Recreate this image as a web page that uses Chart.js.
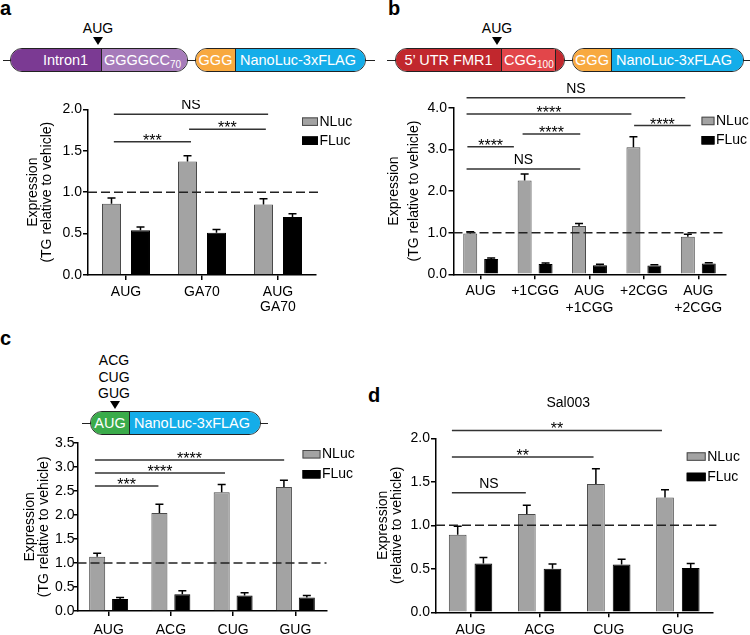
<!DOCTYPE html>
<html>
<head>
<meta charset="utf-8">
<script src="https://cdn.jsdelivr.net/npm/chart.js@4.4.1/dist/chart.umd.min.js"></script>
<style>
  body { margin: 0; width: 750px; height: 635px; position: relative; overflow: hidden; background: #fff;
         font-family: "Liberation Sans", Arial, Helvetica, sans-serif; color: #000; }
  canvas { position: absolute; }
  .letter { position: absolute; font-weight: bold; font-size: 20px; line-height: 20px; }
  .wire { position: absolute; height: 1px; background: #222; }
  .pill { position: absolute; height: 24px; border: 1px solid #222; border-radius: 12px; overflow: hidden;
          display: flex; box-sizing: border-box; }
  .seg { height: 100%; color: #fff; font-size: 14.5px; line-height: 22px; white-space: nowrap; box-sizing: border-box; }
  .cut { border-right: 1px solid #222; }
  .seg sub { font-size: 10px; vertical-align: -3px; line-height: 0; }
  .lbl { position: absolute; font-size: 14px; line-height: 14px; text-align: center; }
  .tri { position: absolute; width: 0; height: 0; border-left: 5px solid transparent;
         border-right: 5px solid transparent; border-top: 8px solid #000; }
</style>
</head>
<body>

<div class="letter" style="left:0;top:-2px">a</div>
<div class="letter" style="left:388px;top:-2px">b</div>
<div class="letter" style="left:0;top:328px">c</div>
<div class="letter" style="left:368px;top:385px">d</div>

<!-- construct a -->
<div class="wire" style="left:3px;top:60px;width:372px"></div>
<div class="lbl" style="left:78px;top:21px;width:40px">AUG</div>
<div class="tri" style="left:93px;top:37px"></div>
<div class="pill" style="left:10px;top:48px;width:178px">
  <div class="seg cut" style="width:91px;background:#7b3a93;padding-left:32px">Intron1</div>
  <div class="seg" style="flex:1;background:#a67bba;padding-left:2px">GGGGCC<sub>70</sub></div>
</div>
<div class="pill" style="left:195px;top:48px;width:171px">
  <div class="seg cut" style="width:40px;background:#f8a93f;text-align:center">GGG</div>
  <div class="seg" style="flex:1;background:#14ade9;padding-left:4px">NanoLuc-3xFLAG</div>
</div>

<!-- construct b -->
<div class="wire" style="left:387px;top:60px;width:363px"></div>
<div class="lbl" style="left:477px;top:21px;width:40px">AUG</div>
<div class="tri" style="left:492px;top:37px"></div>
<div class="pill" style="left:395px;top:48px;width:170px">
  <div class="seg cut" style="width:106px;background:#c1272d;text-align:center">5’ UTR FMR1</div>
  <div class="seg cut" style="width:54px;background:#e2464a;padding-left:2px">CGG<sub>100</sub></div>
  <div class="seg" style="flex:1;background:#c1272d"></div>
</div>
<div class="pill" style="left:572px;top:48px;width:172px">
  <div class="seg cut" style="width:39px;background:#f8a93f;text-align:center">GGG</div>
  <div class="seg" style="flex:1;background:#14ade9;padding-left:4px">NanoLuc-3xFLAG</div>
</div>

<!-- construct c -->
<div class="lbl" style="left:94px;top:353px;width:40px">ACG</div>
<div class="lbl" style="left:94px;top:370px;width:40px">CUG</div>
<div class="lbl" style="left:94px;top:386px;width:40px">GUG</div>
<div class="tri" style="left:110px;top:401px"></div>
<div class="wire" style="left:82px;top:423px;width:186px"></div>
<div class="pill" style="left:90px;top:411px;width:171px">
  <div class="seg cut" style="width:39px;background:#3aab4a;text-align:center">AUG</div>
  <div class="seg" style="flex:1;background:#14ade9;padding-left:4px">NanoLuc-3xFLAG</div>
</div>

<canvas id="ca" width="375" height="215" style="left:0;top:100px"></canvas>
<canvas id="cb" width="375" height="240" style="left:375px;top:75px"></canvas>
<canvas id="cc" width="375" height="205" style="left:0;top:430px"></canvas>
<canvas id="cd" width="375" height="245" style="left:375px;top:390px"></canvas>

<script>
// ---- panel a
var labelsA = ['AUG', 'GA70', ['AUG', 'GA70']]
var nlucA = [0.86, 1.37, 0.85]
var nlucErrA = [0.07, 0.07, 0.07]
var flucA = [0.54, 0.51, 0.70]
var flucErrA = [0.04, 0.04, 0.04]
var bracketsA = [
    { from: -0.16, to: 1.87, y: 1.94, text: 'NS' },
    { from: 0.83, to: 1.84, y: 1.76, text: '***' },
    { from: -0.16, to: 0.855, y: 1.61, text: '***' }
]

// ---- panel b
var labelsB = ['AUG', '+1CGG', ['AUG', '+1CGG'], '+2CGG', ['AUG', '+2CGG']]
var nlucB = [0.98, 2.25, 1.16, 3.05, 0.90]
var nlucErrB = [0.04, 0.16, 0.06, 0.25, 0.06]
var flucB = [0.37, 0.25, 0.22, 0.21, 0.26]
var flucErrB = [0.02, 0.02, 0.02, 0.02, 0.02]
var bracketsB = [
    { from: -0.26, to: 3.76, y: 4.24, text: 'NS' },
    { from: -0.26, to: 2.77, y: 3.85, text: '****' },
    { from: 2.82, to: 3.86, y: 3.57, text: '****' },
    { from: 0.77, to: 1.83, y: 3.37, text: '****' },
    { from: -0.245, to: 0.61, y: 3.06, text: '****' },
    { from: -0.26, to: 1.83, y: 2.53, text: 'NS' }
]

// ---- panel c
var labelsC = ['AUG', 'ACG', 'CUG', 'GUG']
var nlucC = [1.13, 2.04, 2.47, 2.58]
var nlucErrC = [0.07, 0.18, 0.16, 0.14]
var flucC = [0.25, 0.35, 0.32, 0.28]
var flucErrC = [0.03, 0.07, 0.06, 0.04]
var bracketsC = [
    { from: -0.22, to: 2.82, y: 3.14, text: '****' },
    { from: -0.22, to: 1.87, y: 2.87, text: '****' },
    { from: -0.22, to: 0.80, y: 2.60, text: '***' }
]

// ---- panel d
var labelsD = ['AUG', 'ACG', 'CUG', 'GUG']
var nlucD = [0.89, 1.13, 1.475, 1.32]
var nlucErrD = [0.10, 0.10, 0.175, 0.09]
var flucD = [0.56, 0.50, 0.55, 0.51]
var flucErrD = [0.07, 0.055, 0.06, 0.05]
var bracketsD = [
    { from: -0.27, to: 2.77, y: 2.09, text: '**' },
    { from: -0.27, to: 1.78, y: 1.785, text: '**' },
    { from: -0.27, to: 0.80, y: 1.375, text: 'NS' }
]

var FONT = '"Liberation Sans", Arial, Helvetica, sans-serif'
Chart.defaults.font.family = FONT
Chart.defaults.color = '#000'

// error bars, dashed line at 1, brackets, legend
var extras = {
    id: 'extras',
    afterDatasetsDraw: function (chart) {
        var o = chart.options.plugins.extras
        var ctx = chart.ctx
        var xs = chart.scales.x
        var ys = chart.scales.y
        var area = chart.chartArea
        ctx.save()

        ctx.strokeStyle = '#000'
        ctx.lineWidth = 1.5
        chart.data.datasets.forEach(function (ds, i) {
            chart.getDatasetMeta(i).data.forEach(function (bar, j) {
                var top = ys.getPixelForValue(ds.data[j] + ds.errors[j])
                ctx.beginPath()
                ctx.moveTo(bar.x, bar.y)
                ctx.lineTo(bar.x, top)
                ctx.moveTo(bar.x - 4, top)
                ctx.lineTo(bar.x + 4, top)
                ctx.stroke()
            })
        })

        var y1 = ys.getPixelForValue(1)
        ctx.strokeStyle = '#222'
        ctx.setLineDash([9, 4])
        ctx.beginPath()
        ctx.moveTo(area.left, y1)
        ctx.lineTo(area.right + o.dashExtra, y1)
        ctx.stroke()
        ctx.setLineDash([])

        ctx.textAlign = 'center'
        ctx.textBaseline = 'alphabetic'
        ctx.fillStyle = '#000'
        o.brackets.forEach(function (b) {
            var x1 = xs.getPixelForValue(b.from)
            var x2 = xs.getPixelForValue(b.to)
            var yy = ys.getPixelForValue(b.y)
            ctx.strokeStyle = '#333'
            ctx.lineWidth = 1.5
            ctx.beginPath()
            ctx.moveTo(x1, yy)
            ctx.lineTo(x2, yy)
            ctx.stroke()
            if (b.text === 'NS') {
                ctx.font = '14px ' + FONT
                ctx.fillText(b.text, (x1 + x2) / 2, yy - 5)
            } else {
                ctx.font = '16px ' + FONT
                ctx.fillText(b.text, (x1 + x2) / 2, yy + 4)
            }
        })

        // legend
        var lg = o.legend
        ctx.font = '14px ' + FONT
        ctx.textAlign = 'left'
        ctx.textBaseline = 'middle'
        chart.data.datasets.forEach(function (ds, i) {
            var bx = area.right + lg.dx
            var by = area.top + lg.dy[i]
            ctx.fillStyle = ds.backgroundColor
            ctx.fillRect(bx, by, lg.w, 8.5)
            ctx.strokeStyle = ds.borderColor
            ctx.lineWidth = 1
            ctx.strokeRect(bx + 0.5, by + 0.5, lg.w - 1, 7.5)
            ctx.fillStyle = '#000'
            ctx.fillText(ds.label, bx + lg.w + 1.5, by + 4.5)
        })

        if (o.title) {
            ctx.font = '14px ' + FONT
            ctx.textAlign = 'center'
            ctx.textBaseline = 'alphabetic'
            ctx.fillText(o.title, (area.left + area.right) / 2 + o.titleDx, o.titleY)
        }
        ctx.restore()
    }
}

function Grafico(id, labels, nluc, nlucErr, fluc, flucErr, brackets, p) {
    var ctx = document.getElementById(id).getContext('2d')
    return new Chart(ctx, {
        type: 'bar',
        data: {
            labels: labels,
            datasets: [{
                label: 'NLuc',
                data: nluc,
                errors: nlucErr,
                backgroundColor: '#a3a3a3',
                borderColor: '#4a4a4a',
                borderWidth: 1,
                barPercentage: p.barPct,
                categoryPercentage: p.catPct
            }, {
                label: 'FLuc',
                data: fluc,
                errors: flucErr,
                backgroundColor: '#000000',
                borderColor: '#000000',
                borderWidth: 1,
                barPercentage: p.barPct,
                categoryPercentage: p.catPct
            }]
        },
        options: {
            responsive: false,
            animation: false,
            layout: { padding: { top: p.top, right: p.right, left: 0, bottom: 0 } },
            plugins: {
                legend: { display: false },
                tooltip: { enabled: false },
                extras: {
                    brackets: brackets,
                    legend: p.legend,
                    dashExtra: p.dashExtra || 0,
                    title: p.title,
                    titleDx: p.titleDx || 0,
                    titleY: p.titleY
                }
            },
            scales: {
                x: {
                    offset: true,
                    grid: { display: true, drawOnChartArea: false, offset: false, color: '#000', lineWidth: 1.5, tickLength: 5 },
                    border: { color: '#000', width: 1.5 },
                    ticks: { autoSkip: false, maxRotation: 0, padding: p.xPad, font: { size: 14, lineHeight: p.xLine } },
                    afterFit: function (s) { s.height = p.xHeight }
                },
                y: {
                    min: 0,
                    max: p.max,
                    grid: { display: true, drawOnChartArea: false, color: '#000', lineWidth: 1.5, tickLength: p.yTick || 5 },
                    border: { color: '#000', width: 1.5 },
                    ticks: {
                        stepSize: p.step,
                        padding: p.yPad,
                        font: { size: 14 },
                        callback: function (v) { return v.toFixed(1) }
                    },
                    title: {
                        display: true,
                        text: p.yTitle,
                        font: { size: 14, lineHeight: p.titleLine },
                        padding: { top: p.titlePad, bottom: 0 }
                    },
                    afterFit: function (s) { s.width = p.yWidth }
                }
            }
        },
        plugins: [extras]
    })
}

Grafico('ca', labelsA, nlucA, nlucErrA, flucA, flucErrA, bracketsA, {
    top: 9, right: 59, yWidth: 88, xHeight: 40, max: 2, step: 0.5, yPad: 1,
    barPct: 0.655, catPct: 0.763, xPad: 4, xLine: 1.1,
    yTitle: ['Expression', '(TG relative to vehicle)'], titleLine: 1, titlePad: 26,
    legend: { dx: -14, dy: [8, 27], w: 16 }, dashExtra: 2
})

Grafico('cb', labelsB, nlucB, nlucErrB, flucB, flucErrB, bracketsB, {
    top: 32.7, right: 24.5, yWidth: 78.5, xHeight: 40.7, max: 4, step: 1, yPad: 1.5,
    barPct: 0.667, catPct: 0.77, xPad: 3.3, xLine: 1.2,
    yTitle: ['Expression', '(TG relative to vehicle)'], titleLine: 1.43, titlePad: 9,
    legend: { dx: -24, dy: [9, 28.3], w: 13 }
})

Grafico('cc', labelsC, nlucC, nlucErrC, flucC, flucErrC, bracketsC, {
    top: 12.7, right: 48.5, yWidth: 77.5, xHeight: 24, max: 3.5, step: 0.5, yTick: 4, yPad: -1,
    barPct: 0.70, catPct: 0.736, xPad: 6, xLine: 1.1,
    yTitle: ['Expression', '(TG relative to vehicle)'], titleLine: 1, titlePad: 23,
    legend: { dx: -24, dy: [7.3, 27.3], w: 18 }
})

Grafico('cd', labelsD, nlucD, nlucErrD, flucD, flucErrD, bracketsD, {
    top: 48.3, right: 37.6, yWidth: 61, xHeight: 22.7, max: 2, step: 0.5, yPad: 1,
    barPct: 0.69, catPct: 0.744, xPad: 5, xLine: 1.1,
    yTitle: ['Expression', '(relative to vehicle)'], titleLine: 1, titlePad: 1,
    legend: { dx: -25.7, dy: [14, 34.4], w: 19 }, dashExtra: 4,
    title: 'Sal003', titleDx: -6, titleY: 16.7
})
</script>
</body>
</html>
